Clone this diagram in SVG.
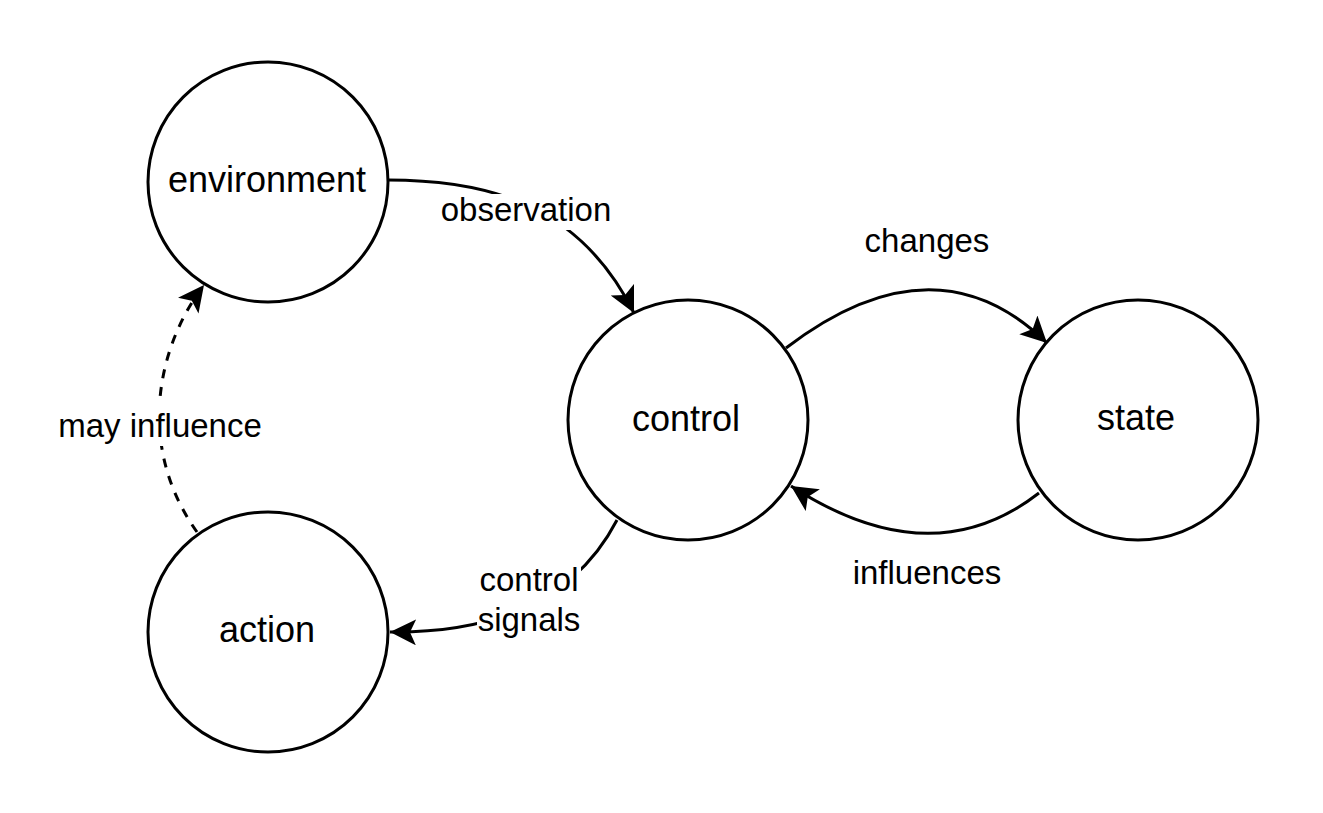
<svg xmlns="http://www.w3.org/2000/svg" width="1323" height="813" viewBox="0 0 1323 813">
  <style>
    .node { fill: #ffffff; stroke: #000000; stroke-width: 3; }
    .edge { fill: none; stroke: #000000; stroke-width: 3; }
    .dashed { stroke-dasharray: 9 9; }
    .ntext { font-family: "Liberation Sans", Arial, Helvetica, sans-serif; font-size: 36px; fill: #000000; text-anchor: middle; }
    .etext { font-family: "Liberation Sans", Arial, Helvetica, sans-serif; font-size: 33px; fill: #000000; text-anchor: middle; }
    .lbg { fill: #ffffff; stroke: none; }
  </style>
  <defs>
    <marker id="arrow" markerUnits="userSpaceOnUse" markerWidth="28" markerHeight="28" refX="26" refY="13" orient="auto" viewBox="0 0 28 28">
      <path d="M0,0 L26,13 L0,26 L6,13 Z" fill="#000000" stroke="none"/>
    </marker>
  </defs>
  <rect width="1323" height="813" fill="#ffffff"/>

  <g id="connectors">
    <g id="edge-observation">
      <path class="edge" d="M388,180 C490,180 580,205 634,313" marker-end="url(#arrow)"/>
      <rect class="lbg" x="438" y="194" width="176" height="36"/>
      <text class="etext" x="526" y="221">observation</text>
    </g>
    <g id="edge-changes">
      <path class="edge" d="M786,348 Q935,234 1047,343" marker-end="url(#arrow)"/>
      <text class="etext" x="927" y="252">changes</text>
    </g>
    <g id="edge-influences">
      <path class="edge" d="M1039,493 Q931,577 791,486" marker-end="url(#arrow)"/>
      <text class="etext" x="927" y="584">influences</text>
    </g>
    <g id="edge-control-signals">
      <path class="edge" d="M617,520 Q558,634 390,632" marker-end="url(#arrow)"/>
      <rect class="lbg" x="477" y="566" width="104" height="76"/>
      <text class="etext" x="529" y="591">control</text>
      <text class="etext" x="529" y="631">signals</text>
    </g>
    <g id="edge-may-influence">
      <path class="edge dashed" d="M197,532 C135,445 158,345 204,285" marker-end="url(#arrow)"/>
      <rect class="lbg" x="58" y="401" width="206" height="45"/>
      <text class="etext" x="160" y="437">may influence</text>
    </g>
  </g>

  <g id="node-environment">
    <circle class="node" cx="268" cy="182" r="120"/>
    <text class="ntext" x="267" y="192">environment</text>
  </g>
  <g id="node-control">
    <circle class="node" cx="688" cy="420" r="120"/>
    <text class="ntext" x="686" y="431">control</text>
  </g>
  <g id="node-state">
    <circle class="node" cx="1138" cy="420" r="120"/>
    <text class="ntext" x="1136" y="430">state</text>
  </g>
  <g id="node-action">
    <circle class="node" cx="268" cy="632" r="120"/>
    <text class="ntext" x="267" y="642">action</text>
  </g>
</svg>
